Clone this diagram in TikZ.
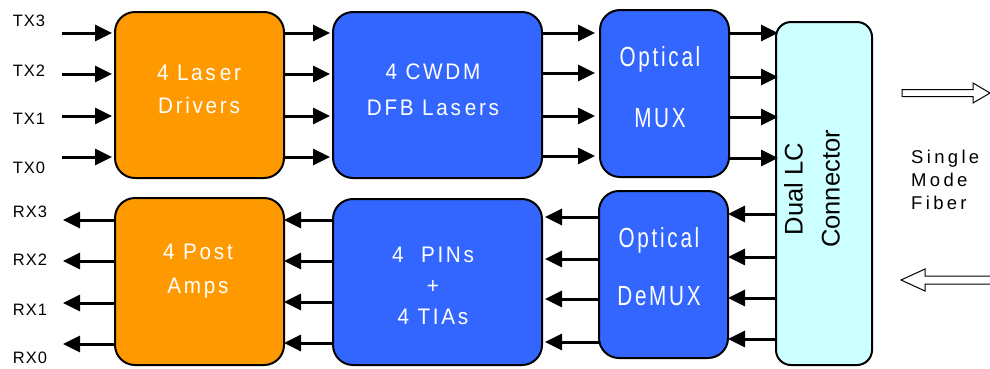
\documentclass[tikz,border=0pt]{standalone}
\usepackage{fontspec}
\setmainfont{Liberation Sans}
\newfontfamily\bfnt[LetterSpace=12,FakeStretch=0.92]{Liberation Sans}
\newfontfamily\lfnt[LetterSpace=6]{Liberation Sans}
\newfontfamily\sfnt[LetterSpace=18]{Liberation Sans}
\usetikzlibrary{arrows.meta}
\definecolor{orng}{HTML}{FF9900}
\definecolor{blu}{HTML}{3366FF}
\definecolor{cyn}{HTML}{CCFFFF}
\newcommand{\tallline}[1]{\scalebox{1}[1.23]{#1}}
\begin{document}
\begin{tikzpicture}[x=1pt,y=-1pt,
  blk/.style={draw=black, line width=2pt, rounded corners=20pt, inner sep=0pt, outer sep=0pt},
  arr/.style={line width=3pt, -{Triangle[length=17pt,width=16pt]}},
  intext/.style={text=white, align=center, inner sep=0pt},
  mainfnt/.style={font=\bfnt\fontsize{22.5}{#1}\selectfont},
  sig/.style={font=\lfnt\fontsize{16.5}{20}\selectfont, inner sep=0pt},
  hollow/.style={draw=black, line width=1pt, fill=white}]
\useasboundingbox (0,0) rectangle (990,368);

% boxes
\node[blk, fill=orng, minimum width=169pt, minimum height=166pt] (ld) at (199.5,95) {};
\node[blk, fill=blu, minimum width=209pt, minimum height=166pt] (cw) at (437.5,95) {};
\node[blk, fill=blu, minimum width=129pt, minimum height=167pt] (mux) at (664.5,93.5) {};
\node[blk, fill=cyn, rounded corners=15pt, minimum width=96pt, minimum height=343pt] (conn) at (824,193.5) {};
\node[blk, fill=orng, minimum width=169pt, minimum height=167pt] (pa) at (199.5,281.5) {};
\node[blk, fill=blu, minimum width=209pt, minimum height=166pt] (pin) at (437.5,282) {};
\node[blk, fill=blu, minimum width=129pt, minimum height=167pt] (dmx) at (663.5,274.5) {};

% box texts
\node[intext, mainfnt=33] (ldt) at (199,89.5) {4 Las\kern4pt er\\Drivers};
\node[intext, mainfnt=36] (cwt) at (433,90) {4 CWDM\\DFB Las\kern4pt ers};
\node[intext, mainfnt=61] (muxt) at (660,87.5) {\tallline{Optical}\\\tallline{MUX}};
\node[intext, mainfnt=34] (pat) at (198,271) {4 Pos\kern3pt t\\Amps};
\node[intext, mainfnt=31] (pint) at (433,286) {4 \kern9pt PINs\\+\\4 TIAs};
\node[intext, mainfnt=58] (dmxt) at (659,267) {\tallline{Optical}\\\tallline{DeMUX}};
\node[rotate=90, align=center, inner sep=0pt, font=\fontsize{25.5}{37}\selectfont] (connt) at (812,189) {Dual LC\\Connector};

% signal labels
\node[sig] (tx3) at (29,21) {TX3};
\node[sig] (tx2) at (29,71) {TX2};
\node[sig] (tx1) at (29,119) {TX1};
\node[sig] (tx0) at (29,168) {TX0};
\node[sig] (rx3) at (30,212) {RX3};
\node[sig] (rx2) at (30,260) {RX2};
\node[sig] (rx1) at (30,310) {RX1};
\node[sig] (rx0) at (30,358) {RX0};

% free ends
\coordinate (tx3s) at (62,33);
\coordinate (tx2s) at (62,74);
\coordinate (tx1s) at (62,116);
\coordinate (tx0s) at (62,157);
\coordinate (rx3e) at (63,220);
\coordinate (rx2e) at (63,261);
\coordinate (rx1e) at (63,303);
\coordinate (rx0e) at (63,344);

% transmit path
\foreach \c in {tx3s,tx2s,tx1s,tx0s}
  \draw[arr, shorten >=3pt] (\c) -- (ld.west |- \c);
\foreach \y in {33,74,116,157}
  \draw[arr, shorten >=3pt] (ld.east |- 0,\y) -- (cw.west |- 0,\y);
\foreach \y in {33,73,116,156}
  \draw[arr, shorten >=5pt] (cw.east |- 0,\y) -- (mux.west |- 0,\y);
\foreach \y in {33,77,117,158}
  \draw[arr, shorten >=-2pt] (mux.east |- 0,\y) -- (conn.west |- 0,\y);

% receive path
\foreach \y in {214,257,298,339}
  \draw[arr] (conn.west |- 0,\y) -- (dmx.east |- 0,\y);
\foreach \y in {217,259,299,342}
  \draw[arr, shorten >=3pt] (dmx.west |- 0,\y) -- (pin.east |- 0,\y);
\foreach \y in {220,261,302,343}
  \draw[arr] (pin.west |- 0,\y) -- (pa.east |- 0,\y);
\foreach \c in {rx3e,rx2e,rx1e,rx0e}
  \draw[arr] (pa.west |- \c) -- (\c);

% fiber arrows
\draw[hollow] (902,89.5) -- (973,89.5) -- (973,83) -- (990,93) -- (973,103) -- (973,96.5) -- (902,96.5) -- cycle;
\draw[hollow] (1000,276) -- (925,276) -- (925,269) -- (901,280) -- (925,291) -- (925,284) -- (1000,284) -- cycle;
\node[anchor=west, align=left, inner sep=0pt, font=\sfnt\fontsize{18.5}{23}\selectfont] (smf) at (911,180) {Single\\Mode\\Fiber};
\end{tikzpicture}
\end{document}
